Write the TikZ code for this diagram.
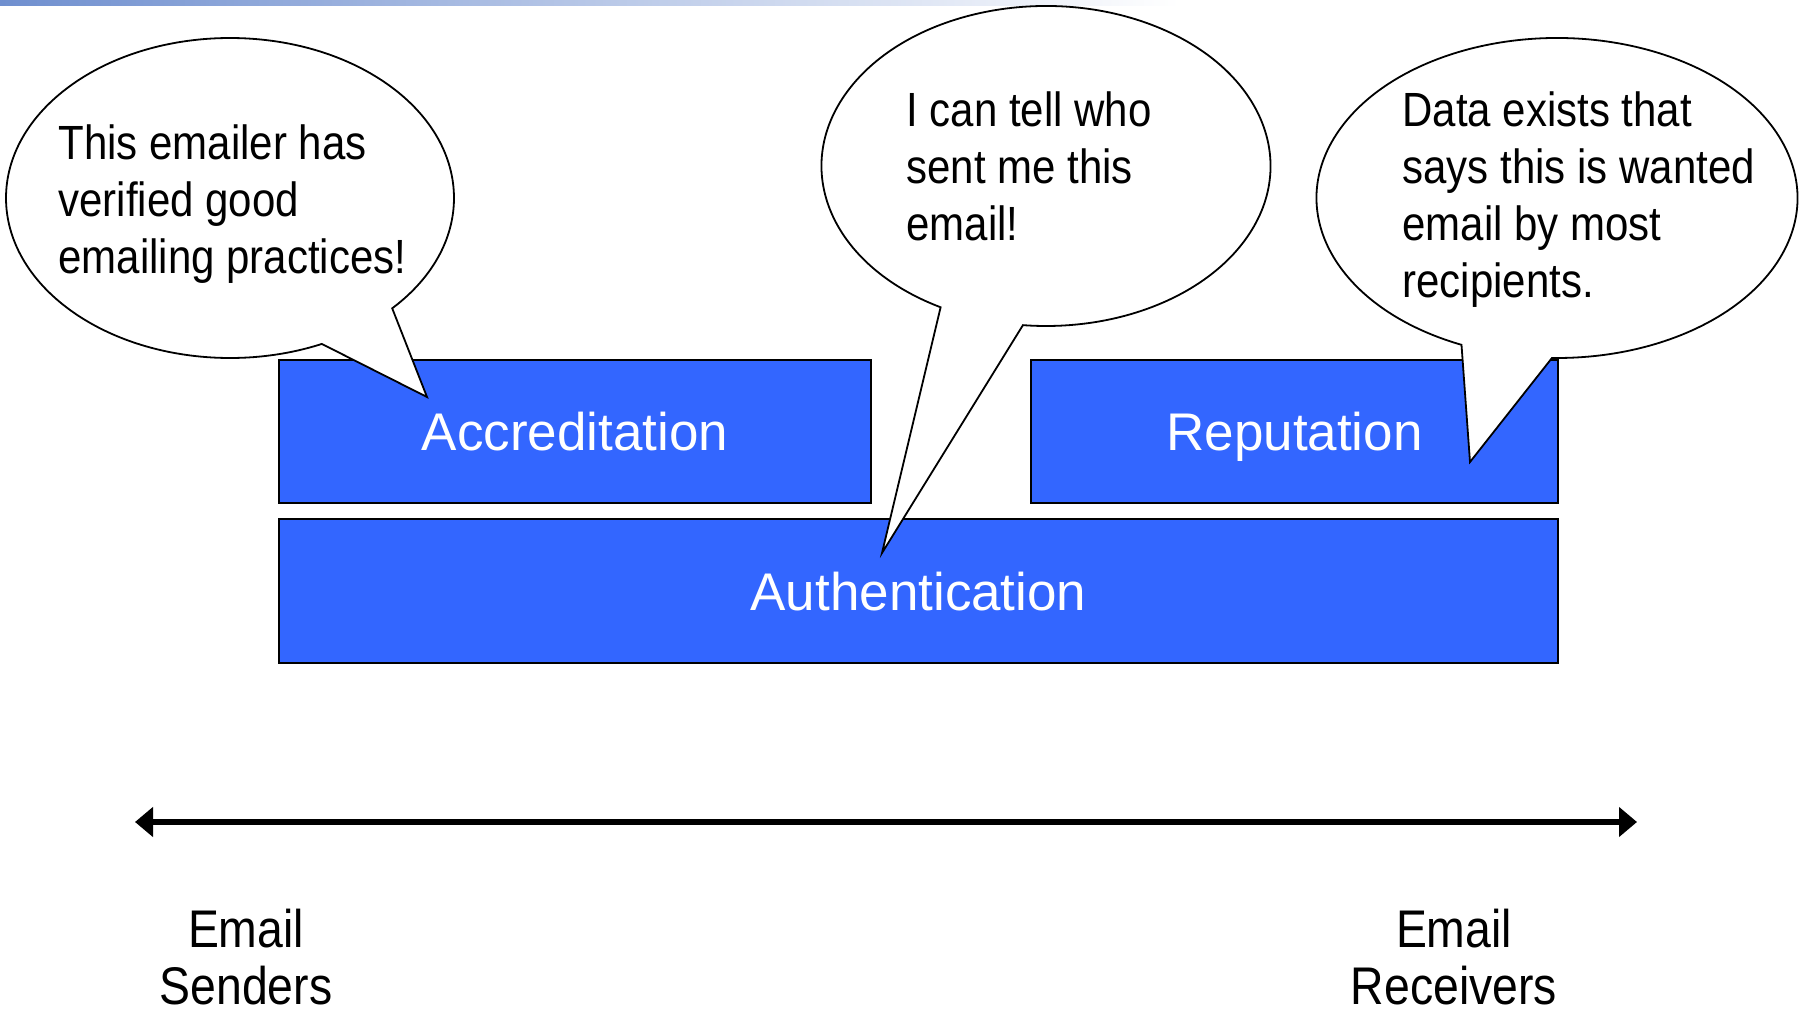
\documentclass[tikz,border=0pt]{standalone}
\usepackage{fontspec}
\setmainfont{Liberation Sans}
\newfontfamily\narrowfont{Liberation Sans}[FakeStretch=0.875]
\usetikzlibrary{arrows.meta}
\definecolor{boxblue}{HTML}{3366FF}
\definecolor{barblue}{HTML}{6F8FCF}

\begin{document}
\begin{tikzpicture}[x=0.5pt,y=-0.5pt,
  layerbox/.style={draw=black, line width=1pt, fill=boxblue, anchor=north west, inner sep=0},
  boxlabel/.style={text=white, font=\fontsize{26.5}{30}\selectfont, inner sep=0,
    text height=19pt, text depth=0pt},
  bubble/.style={draw=black, line width=0.9pt, fill=white, line join=miter},
  bubbletext/.style={font=\narrowfont\fontsize{24}{28.5}\selectfont, align=left,
    anchor=base west, inner sep=0},
  endlabel/.style={font=\narrowfont\fontsize{26.5}{28.5}\selectfont, align=center,
    anchor=base, inner sep=0},
  axisline/.style={line width=3pt, {Triangle[length=9pt,width=14.5pt]}-{Triangle[length=9pt,width=14.5pt]}}]

% page frame
\useasboundingbox (0,0) rectangle (1809,1016);
\fill[white] (0,0) rectangle (1809,1016);

% thin header bar fading out to the right
\shade[left color=barblue, right color=white] (0,0) rectangle (1180,6);

% layer boxes
\node (accr) [layerbox, minimum width=296pt, minimum height=71.5pt] at (278,359) {};
\node (repu) [layerbox, minimum width=263.5pt, minimum height=71.5pt] at (1030,359) {};
\node (auth) [layerbox, minimum width=639.5pt, minimum height=72pt] at (278,518) {};
\node (accrlbl) [boxlabel] at (accr.center) {Accreditation};
\node (repulbl) [boxlabel] at (repu.center) {Reputation};
\node (authlbl) [boxlabel] at (auth.center) {Authentication};

% speech bubbles: ellipse centres and tail tips
\coordinate (c1) at (230,198);
\coordinate (t1) at (427,397);
\coordinate (c2) at (1046,166);
\coordinate (t2) at (882,553);
\coordinate (c3) at (1557,198);
\coordinate (t3) at (1470,462);

\path[bubble] ([shift={(65.8:224 and 160)}]c1) -- (t1)
  -- ([shift={(43.6:224 and 160)}]c1)
  arc[start angle=43.6, end angle=-294.2, x radius=224, y radius=160] -- cycle;
\path[bubble] ([shift={(95.9:224.5 and 160)}]c2) -- (t2)
  -- ([shift={(118:224.5 and 160)}]c2)
  arc[start angle=118, end angle=455.9, x radius=224.5, y radius=160] -- cycle;
\path[bubble] ([shift={(91.2:240.5 and 160)}]c3) -- (t3)
  -- ([shift={(113.4:240.5 and 160)}]c3)
  arc[start angle=113.4, end angle=451.2, x radius=240.5, y radius=160] -- cycle;

% bubble texts (anchored at the baseline of their last line)
\node (say1) [bubbletext] at (58,273) {This emailer has\\verified good\\emailing practices!};
\node (say2) [bubbletext] at (906,241) {I can tell who\\sent me this\\email!};
\node (say3) [bubbletext] at (1402,298) {Data exists that\\says this is wanted\\email by most\\recipients.};

% sender / receiver axis
\coordinate (west) at (135,822);
\coordinate (east) at (1637,822);
\draw[axisline] (west) -- (east);

\node (senders) [endlabel] at (246,1004) {Email\\Senders};
\node (receivers) [endlabel] at (1454,1004) {Email\\Receivers};
\end{tikzpicture}
\end{document}
